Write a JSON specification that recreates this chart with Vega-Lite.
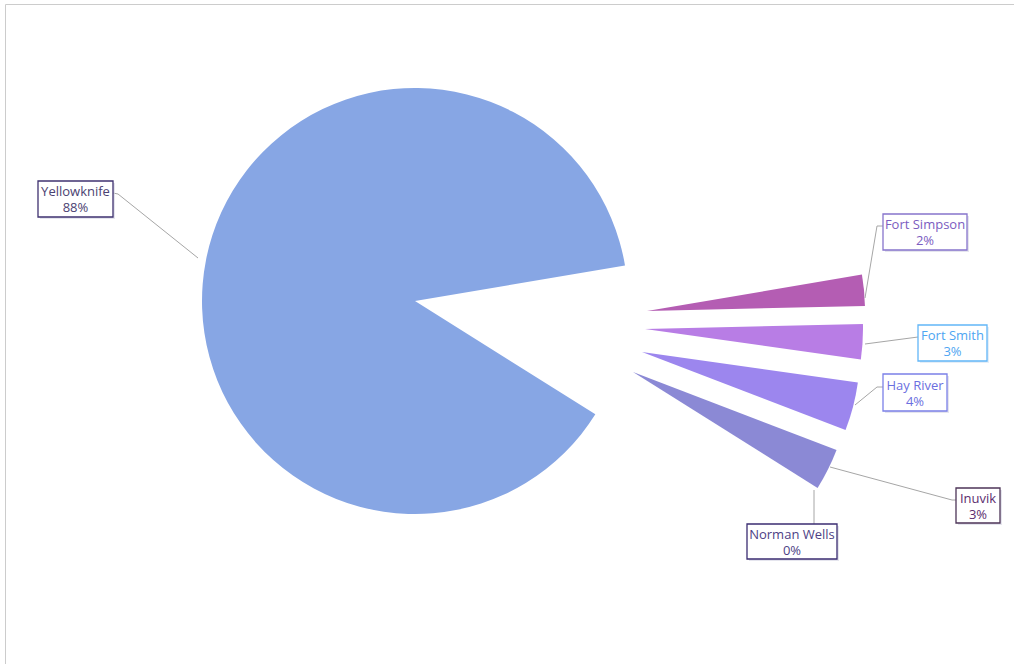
{
  "$schema": "https://vega.github.io/schema/vega-lite/v6.json",
  "width": 1012,
  "height": 662,
  "autosize": {"type": "none"},
  "padding": {"left": 5, "top": 4, "right": 0, "bottom": 0},
  "background": "white",
  "view": {"stroke": "#cccccc", "strokeWidth": 1, "fill": "white"},
  "config": {"text": {"font": "Open Sans", "fontSize": 13}},
  "data": {"values": [
    {"name": "Fort Simpson", "share": 0.023},
    {"name": "Fort Smith", "share": 0.026},
    {"name": "Hay River", "share": 0.036},
    {"name": "Inuvik", "share": 0.031},
    {"name": "Norman Wells", "share": 0.0},
    {"name": "Yellowknife", "share": 0.884}
  ]},
  "transform": [
    {"stack": "share", "groupby": [], "sort": [{"field": "name", "order": "ascending"}], "as": ["s0", "s1"]}
  ],
  "layer": [
    {
      "encoding": {
        "theta": {"field": "s0", "type": "quantitative", "scale": {"domain": [0, 1], "range": [1.403, 7.686]}},
        "theta2": {"field": "s1"},
        "color": {"field": "name", "type": "nominal", "legend": null,
          "scale": {"domain": ["Yellowknife", "Fort Simpson", "Fort Smith", "Hay River", "Inuvik", "Norman Wells"],
                    "range": ["#87a6e4", "#b45db3", "#b87de5", "#9c86ee", "#8b89d5", "#8a7dc8"]}}
      },
      "layer": [
        {"transform": [{"filter": "datum.name == 'Yellowknife'"}], "mark": {"type": "arc", "radius": 213, "xOffset": -96, "yOffset": -34}},
        {"transform": [{"filter": "datum.name == 'Fort Simpson'"}], "mark": {"type": "arc", "radius": 218, "xOffset": 136, "yOffset": -24}},
        {"transform": [{"filter": "datum.name == 'Fort Smith'"}], "mark": {"type": "arc", "radius": 218, "xOffset": 134, "yOffset": -6}},
        {"transform": [{"filter": "datum.name == 'Hay River'"}], "mark": {"type": "arc", "radius": 218, "xOffset": 131, "yOffset": 17}},
        {"transform": [{"filter": "datum.name == 'Inuvik'"}], "mark": {"type": "arc", "radius": 218, "xOffset": 122, "yOffset": 37}},
        {"transform": [{"filter": "datum.name == 'Norman Wells'"}], "mark": {"type": "arc", "radius": 218, "xOffset": 117, "yOffset": 45}}
      ]
    },
    {
      "transform": [{"filter": "datum.name == 'Yellowknife'"}],
      "layer": [
        {"mark": {"type": "point", "shape": "M37.5,-6L42.5,-5L122.5,59", "size": 4, "filled": false, "stroke": "#a6a6a6", "strokeWidth": 1, "opacity": 1, "xOffset": -435.5, "yOffset": -136}},
        {"mark": {"type": "point", "shape": "M-37.5,-18H37.5V18H-37.5Z", "size": 4, "filled": true, "fill": "#d4d4e2", "strokeWidth": 0, "opacity": 0.6, "xOffset": -433.5, "yOffset": -134}},
        {"mark": {"type": "point", "shape": "M-37.5,-18H37.5V18H-37.5Z", "size": 4, "filled": true, "fill": "white", "stroke": "#3f3270", "strokeWidth": 1.3, "opacity": 1, "xOffset": -435.5, "yOffset": -136}},
        {"mark": {"type": "text", "color": "#4b4272", "xOffset": -435.5, "yOffset": -143}, "encoding": {"text": {"field": "name"}}},
        {"mark": {"type": "text", "color": "#4b4272", "xOffset": -435.5, "yOffset": -127}, "encoding": {"text": {"field": "share", "type": "quantitative", "format": ".0%"}}}
      ]
    },
    {
      "transform": [{"filter": "datum.name == 'Fort Simpson'"}],
      "layer": [
        {"mark": {"type": "point", "shape": "M-42,-6L-48,-6L-60,66", "size": 4, "filled": false, "stroke": "#a6a6a6", "strokeWidth": 1, "opacity": 1, "xOffset": 414, "yOffset": -103}},
        {"mark": {"type": "point", "shape": "M-42,-18H42V18H-42Z", "size": 4, "filled": true, "fill": "#d4d4e2", "strokeWidth": 0, "opacity": 0.6, "xOffset": 416, "yOffset": -101}},
        {"mark": {"type": "point", "shape": "M-42,-18H42V18H-42Z", "size": 4, "filled": true, "fill": "white", "stroke": "#8774cc", "strokeWidth": 1.3, "opacity": 1, "xOffset": 414, "yOffset": -103}},
        {"mark": {"type": "text", "color": "#7b5cbf", "xOffset": 414, "yOffset": -110}, "encoding": {"text": {"field": "name"}}},
        {"mark": {"type": "text", "color": "#7b5cbf", "xOffset": 414, "yOffset": -94}, "encoding": {"text": {"field": "share", "type": "quantitative", "format": ".0%"}}}
      ]
    },
    {
      "transform": [{"filter": "datum.name == 'Fort Smith'"}],
      "layer": [
        {"mark": {"type": "point", "shape": "M-34.5,-6L-87.5,1", "size": 4, "filled": false, "stroke": "#a6a6a6", "strokeWidth": 1, "opacity": 1, "xOffset": 441.5, "yOffset": 8}},
        {"mark": {"type": "point", "shape": "M-34.5,-18H34.5V18H-34.5Z", "size": 4, "filled": true, "fill": "#d4e2f2", "strokeWidth": 0, "opacity": 0.6, "xOffset": 443.5, "yOffset": 10}},
        {"mark": {"type": "point", "shape": "M-34.5,-18H34.5V18H-34.5Z", "size": 4, "filled": true, "fill": "white", "stroke": "#62b6f7", "strokeWidth": 1.3, "opacity": 1, "xOffset": 441.5, "yOffset": 8}},
        {"mark": {"type": "text", "color": "#4ea5f2", "xOffset": 441.5, "yOffset": 1}, "encoding": {"text": {"field": "name"}}},
        {"mark": {"type": "text", "color": "#4ea5f2", "xOffset": 441.5, "yOffset": 17}, "encoding": {"text": {"field": "share", "type": "quantitative", "format": ".0%"}}}
      ]
    },
    {
      "transform": [{"filter": "datum.name == 'Hay River'"}],
      "layer": [
        {"mark": {"type": "point", "shape": "M-32,-5.5L-38,-5.5L-60,12.5", "size": 4, "filled": false, "stroke": "#a6a6a6", "strokeWidth": 1, "opacity": 1, "xOffset": 404, "yOffset": 57.5}},
        {"mark": {"type": "point", "shape": "M-32,-18.5H32V18.5H-32Z", "size": 4, "filled": true, "fill": "#d4d4e2", "strokeWidth": 0, "opacity": 0.6, "xOffset": 406, "yOffset": 59.5}},
        {"mark": {"type": "point", "shape": "M-32,-18.5H32V18.5H-32Z", "size": 4, "filled": true, "fill": "white", "stroke": "#7b80e8", "strokeWidth": 1.3, "opacity": 1, "xOffset": 404, "yOffset": 57.5}},
        {"mark": {"type": "text", "color": "#6b6fe0", "xOffset": 404, "yOffset": 50.5}, "encoding": {"text": {"field": "name"}}},
        {"mark": {"type": "text", "color": "#6b6fe0", "xOffset": 404, "yOffset": 66.5}, "encoding": {"text": {"field": "share", "type": "quantitative", "format": ".0%"}}}
      ]
    },
    {
      "transform": [{"filter": "datum.name == 'Inuvik'"}],
      "layer": [
        {"mark": {"type": "point", "shape": "M-22,-5.5L-26,-5.5L-148,-38.5", "size": 4, "filled": false, "stroke": "#a6a6a6", "strokeWidth": 1, "opacity": 1, "xOffset": 467, "yOffset": 170.5}},
        {"mark": {"type": "point", "shape": "M-22,-17.5H22V17.5H-22Z", "size": 4, "filled": true, "fill": "#d4d4e2", "strokeWidth": 0, "opacity": 0.6, "xOffset": 469, "yOffset": 172.5}},
        {"mark": {"type": "point", "shape": "M-22,-17.5H22V17.5H-22Z", "size": 4, "filled": true, "fill": "white", "stroke": "#4d3558", "strokeWidth": 1.3, "opacity": 1, "xOffset": 467, "yOffset": 170.5}},
        {"mark": {"type": "text", "color": "#5b2c6e", "xOffset": 467, "yOffset": 163.5}, "encoding": {"text": {"field": "name"}}},
        {"mark": {"type": "text", "color": "#5b2c6e", "xOffset": 467, "yOffset": 179.5}, "encoding": {"text": {"field": "share", "type": "quantitative", "format": ".0%"}}}
      ]
    },
    {
      "transform": [{"filter": "datum.name == 'Norman Wells'"}],
      "layer": [
        {"mark": {"type": "point", "shape": "M22,-51.5L22,-17.5", "size": 4, "filled": false, "stroke": "#a6a6a6", "strokeWidth": 1, "opacity": 1, "xOffset": 281, "yOffset": 206.5}},
        {"mark": {"type": "point", "shape": "M-45,-17.5H45V17.5H-45Z", "size": 4, "filled": true, "fill": "#d4d4e2", "strokeWidth": 0, "opacity": 0.6, "xOffset": 283, "yOffset": 208.5}},
        {"mark": {"type": "point", "shape": "M-45,-17.5H45V17.5H-45Z", "size": 4, "filled": true, "fill": "white", "stroke": "#3b2d72", "strokeWidth": 1.3, "opacity": 1, "xOffset": 281, "yOffset": 206.5}},
        {"mark": {"type": "text", "color": "#4e3f85", "xOffset": 281, "yOffset": 199.5}, "encoding": {"text": {"field": "name"}}},
        {"mark": {"type": "text", "color": "#4e3f85", "xOffset": 281, "yOffset": 215.5}, "encoding": {"text": {"field": "share", "type": "quantitative", "format": ".0%"}}}
      ]
    }
  ]
}
